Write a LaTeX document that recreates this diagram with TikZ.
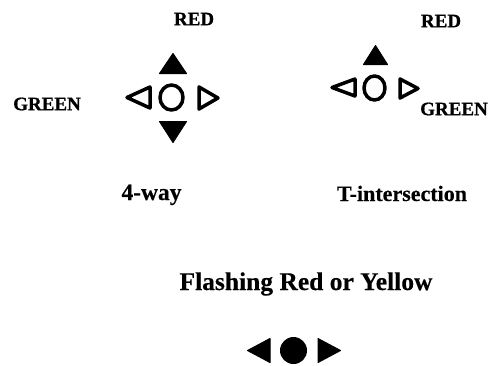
\documentclass[tikz,border=0pt]{standalone}
\usepackage{fontspec}
\setmainfont{Liberation Serif}
\newfontfamily\capfont[FakeBold=0.3]{Liberation Serif Bold}
\newfontfamily\lblfont[FakeBold=0.8]{Liberation Serif Bold}
\begin{document}
\begin{tikzpicture}[x=1pt,y=-1pt,
  lbl/.style={font=\lblfont\fontsize{19}{19}\selectfont, inner sep=0pt},
  captext/.style={inner sep=0pt, anchor=base},
  hollow/.style={draw=black, line width=3.5pt, line join=round, fill=none},
  solid/.style={fill=black, draw=black, line width=1pt, line join=round}]
\useasboundingbox (0,0) rectangle (491,365);
% ---- 4-way ----
\node[lbl] (red1) at (194,19) {RED};
\node[lbl] (green1) at (47,104) {GREEN};
\filldraw[solid] (159.5,73.5) -- (186.5,73.5) -- (173,53.5) -- cycle;
\filldraw[solid] (159.5,121.5) -- (186.5,121.5) -- (173,142.5) -- cycle;
\draw[hollow] (127,97.5) -- (150,87) -- (150,108) -- cycle;
\draw[hollow] (171.5,97.5) ellipse[x radius=11.5, y radius=12.5];
\draw[hollow] (218,98) -- (199,87) -- (199,109) -- cycle;
\node[captext, font=\capfont\fontsize{23.5}{24}\selectfont] (fourway) at (151.5,200) {4-way};
% ---- T-intersection ----
\node[lbl] (red2) at (441,21) {RED};
\node[lbl] (green2) at (454,109) {GREEN};
\filldraw[solid] (363.5,64.5) -- (387.5,64.5) -- (375.5,45.5) -- cycle;
\draw[hollow] (332,87.5) -- (355,79) -- (355,96) -- cycle;
\draw[hollow] (374.5,88) ellipse[x radius=10.5, y radius=12];
\draw[hollow] (418,88.5) -- (400,79) -- (400,98) -- cycle;
\node[captext, font=\capfont\fontsize{22}{22}\selectfont] (tint) at (402,201) {T-intersection};
% ---- Flashing ----
\node[captext, font=\capfont\fontsize{25.5}{26}\selectfont] (flash) at (306,290) {Flashing Red or Yellow};
\filldraw[solid] (247.5,350.5) -- (270,338.5) -- (270,362.5) -- cycle;
\fill (293.5,350.5) circle[radius=13.5];
\filldraw[solid] (340.5,350.5) -- (318,338.5) -- (318,362.5) -- cycle;
\end{tikzpicture}
\end{document}
